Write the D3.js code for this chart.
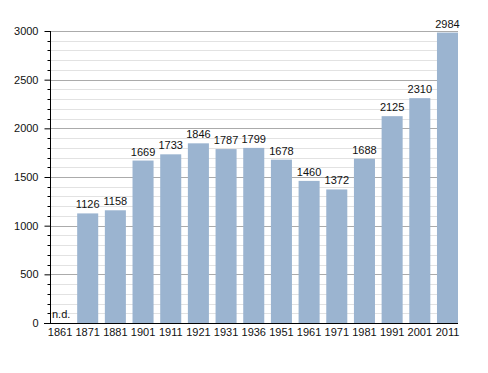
<!DOCTYPE html>
<html><head><meta charset="utf-8">
<script src="https://cdn.jsdelivr.net/npm/d3@7"></script>
<style>body{margin:0;background:#fff}svg{display:block;font-family:"Liberation Sans",Arial,sans-serif}</style>
</head><body>
<script>
const years = ["1861","1871","1881","1901","1911","1921","1931","1936","1951","1961","1971","1981","1991","2001","2011"];
const population = [null,1126,1158,1669,1733,1846,1787,1799,1678,1460,1372,1688,2125,2310,2984];
const yTicks = [0,500,1000,1500,2000,2500,3000];
const missingLabel = "n.d.";

const W = 488, H = 373;
const svg = d3.select("body").append("svg").attr("width", W).attr("height", H);
const x = d3.scaleBand().domain(years).range([49.5, 458]).paddingInner(0.24).paddingOuter(0);
const y = d3.scaleLinear().domain([0, 3000]).range([323, 31]);

// minor gridlines
const minor = d3.range(100, 3001, 100).filter(v => v % 500 !== 0);
svg.append("g").selectAll("line").data(minor).join("line")
  .attr("x1", 50).attr("x2", 458).attr("y1", d => Math.round(y(d)) + 0.5).attr("y2", d => Math.round(y(d)) + 0.5)
  .attr("stroke", "#e2e2e2").attr("stroke-width", 1);
// major gridlines
svg.append("g").selectAll("line").data(yTicks.filter(v => v > 0)).join("line")
  .attr("x1", 50).attr("x2", 458).attr("y1", d => Math.round(y(d)) + 0.5).attr("y2", d => Math.round(y(d)) + 0.5)
  .attr("stroke", "#ababab").attr("stroke-width", 1);

// bars
const data = years.map((yr, i) => ({yr, v: population[i]}));
svg.append("g").selectAll("rect").data(data.filter(d => d.v != null)).join("rect")
  .attr("x", d => x(d.yr)).attr("width", x.bandwidth())
  .attr("y", d => y(d.v)).attr("height", d => y(0) - y(d.v))
  .attr("fill", "#9bb4d0");

// value labels
svg.append("g").selectAll("text").data(data.filter(d => d.v != null)).join("text")
  .attr("x", d => x(d.yr) + x.bandwidth() / 2).attr("y", d => y(d.v) - 5)
  .attr("text-anchor", "middle").attr("font-size", 11).attr("fill", "#111")
  .text(d => d.v);
svg.append("g").selectAll("text").data(data.filter(d => d.v == null)).join("text")
  .attr("x", d => x(d.yr) + 2.5).attr("y", y(0) - 5)
  .attr("text-anchor", "start").attr("font-size", 11).attr("fill", "#111")
  .text(missingLabel);

// y axis
const yAxis = d3.axisLeft(y).tickValues(yTicks).tickFormat(d3.format("d")).tickSize(6).tickPadding(6);
const gy = svg.append("g").attr("transform", "translate(50.5,0)").call(yAxis);
gy.select(".domain").remove();
gy.selectAll(".tick line").attr("stroke", "#000");
gy.selectAll("text").attr("font-size", 11).attr("fill", "#111").attr("font-family", "Liberation Sans, Arial, sans-serif");
gy.append("g").selectAll("line").data(minor).join("line")
  .attr("x1", -3).attr("x2", 0).attr("y1", d => Math.round(y(d)) + 0.5).attr("y2", d => Math.round(y(d)) + 0.5)
  .attr("stroke", "#000");
svg.append("line").attr("x1", 50.5).attr("x2", 50.5).attr("y1", y(3000)).attr("y2", y(0)).attr("stroke", "#000");

// x axis
const xAxis = d3.axisBottom(x).tickSize(0).tickPadding(5);
const gx = svg.append("g").attr("transform", "translate(0,323.5)").call(xAxis);
gx.select(".domain").remove();
gx.selectAll("text").attr("font-size", 11).attr("fill", "#111").attr("font-family", "Liberation Sans, Arial, sans-serif");
svg.append("line").attr("x1", 44).attr("x2", 458).attr("y1", 323.5).attr("y2", 323.5).attr("stroke", "#000");
</script>
</body></html>
